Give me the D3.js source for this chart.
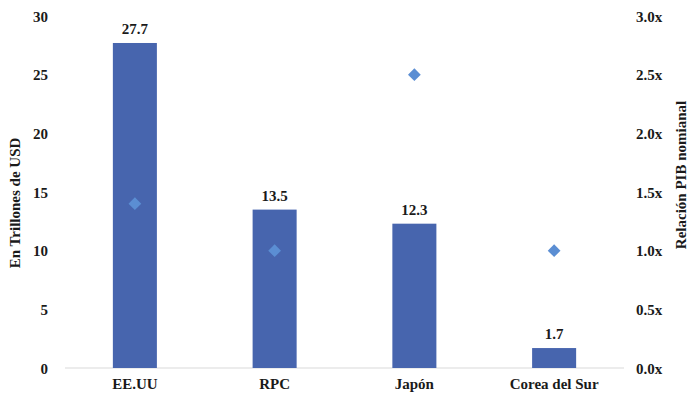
<!DOCTYPE html>
<html>
<head>
<meta charset="utf-8">
<script src="https://cdn.jsdelivr.net/npm/d3@7"></script>
<style>
  html, body { margin: 0; padding: 0; background: #fff; }
  svg text { font-family: "Liberation Serif", "DejaVu Serif", serif; font-weight: bold; fill: #1a1a1a; }
</style>
</head>
<body>
<svg id="chart" width="691" height="400"></svg>
<script>
// GDP in trillions of USD and nominal GDP ratio per economy
const categories = ["EE.UU", "RPC", "Japón", "Corea del Sur"];
const gdpValues = [27.7, 13.5, 12.3, 1.7];
const ratioValues = [1.4, 1.0, 2.5, 1.0];
const leftTicks = [0, 5, 10, 15, 20, 25, 30];
const rightTicks = [0, 0.5, 1.0, 1.5, 2.0, 2.5, 3.0];

const svg = d3.select("#chart");
const plot = { left: 65, right: 624, top: 16, bottom: 368 };

const x = d3.scaleBand().domain(categories).range([plot.left, plot.right])
  .paddingInner(0.685).paddingOuter(0.3425);
const yL = d3.scaleLinear().domain([0, 30]).range([plot.bottom, plot.top]);
const yR = d3.scaleLinear().domain([0, 3]).range([plot.bottom, plot.top]);

// baseline
svg.append("line")
  .attr("x1", plot.left).attr("x2", plot.right)
  .attr("y1", yL(0)).attr("y2", yL(0))
  .attr("stroke", "#d9d9d9").attr("stroke-width", 1);

// bars
svg.selectAll("rect.bar").data(categories).join("rect")
  .attr("class", "bar")
  .attr("x", d => x(d))
  .attr("width", x.bandwidth())
  .attr("y", (d, i) => yL(gdpValues[i]))
  .attr("height", (d, i) => yL(0) - yL(gdpValues[i]))
  .attr("fill", "#4765AE");

// value labels
svg.selectAll("text.val").data(categories).join("text")
  .attr("class", "val")
  .attr("x", d => x(d) + x.bandwidth() / 2)
  .attr("y", (d, i) => yL(gdpValues[i]) - 9)
  .attr("text-anchor", "middle")
  .style("font-size", "15px")
  .text((d, i) => gdpValues[i].toFixed(1));

// ratio markers (diamonds)
svg.selectAll("path.ratio").data(categories).join("path")
  .attr("class", "ratio")
  .attr("transform", (d, i) => `translate(${x(d) + x.bandwidth() / 2},${yR(ratioValues[i])}) rotate(45)`)
  .attr("d", d3.symbol().type(d3.symbolSquare).size(81))
  .attr("fill", "#5B8ED3");

// left axis
const axL = svg.append("g").attr("transform", "translate(48,0)")
  .call(d3.axisLeft(yL).tickValues(leftTicks).tickSize(0).tickPadding(0).tickFormat(d3.format("d")));
axL.select(".domain").remove();
axL.selectAll("text").style("font-size", "15px").attr("dy", "0.35em");

// right axis
const axR = svg.append("g").attr("transform", "translate(636,0)")
  .call(d3.axisRight(yR).tickValues(rightTicks).tickSize(0).tickPadding(0).tickFormat(d => d.toFixed(1) + "x"));
axR.select(".domain").remove();
axR.selectAll("text").style("font-size", "15px").attr("dy", "0.35em");

// category axis
const axX = svg.append("g").attr("transform", `translate(0,${plot.bottom})`)
  .call(d3.axisBottom(x).tickSize(0).tickPadding(10));
axX.select(".domain").remove();
axX.selectAll("text").style("font-size", "15px").attr("dy", "0.71em");

// axis titles
svg.append("text")
  .attr("transform", "translate(20,203) rotate(-90)")
  .attr("text-anchor", "middle")
  .style("font-size", "15px")
  .text("En Trillones de USD");

svg.append("text")
  .attr("transform", "translate(686,175) rotate(-90)")
  .attr("text-anchor", "middle")
  .style("font-size", "15px")
  .text("Relación PIB nomianal");
</script>
</body>
</html>
